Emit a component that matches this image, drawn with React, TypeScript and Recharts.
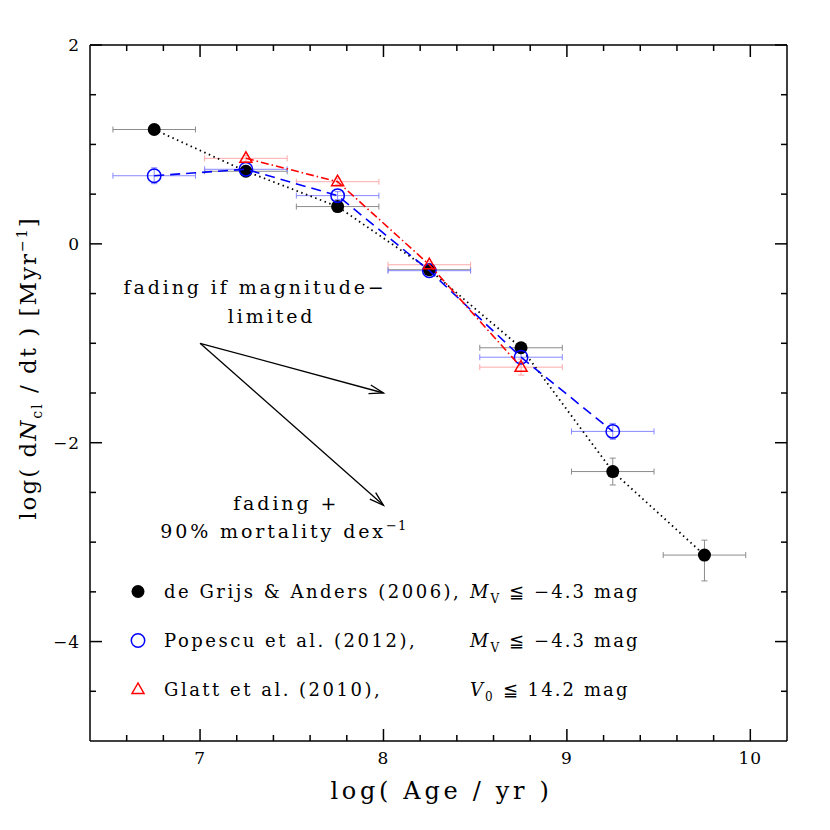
import React from 'react';
import {
  ComposedChart,
  Scatter,
  XAxis,
  YAxis,
  ErrorBar,
  ReferenceLine,
  ReferenceDot,
  Legend,
} from 'recharts';

const FONT = '"DejaVu Serif", "Liberation Serif", serif';

// ---------- data ----------
const ageBins = [6.75, 7.25, 7.75, 8.25, 8.75, 9.25, 9.75];
const grijsLogRate = [1.15, 0.73, 0.375, -0.26, -1.045, -2.29, -3.13];
const grijsErrLow = [0.03, 0.03, 0.03, 0.03, 0.05, 0.135, 0.26];
const grijsErrHigh = [0.03, 0.03, 0.03, 0.03, 0.05, 0.135, 0.15];

const popescuAges = [6.75, 7.25, 7.75, 8.25, 8.75, 9.25];
const popescuLogRate = [0.685, 0.75, 0.485, -0.27, -1.14, -1.886];
const popescuErr = [0.08, 0.04, 0.04, 0.04, 0.05, 0.08];

const glattAges = [7.25, 7.75, 8.25, 8.75];
const glattLogRate = [0.86, 0.625, -0.21, -1.24];
const glattErr = [0.03, 0.03, 0.03, 0.08];

const ageHalfWidth = 0.225;

const xTicks = [6.6, 6.8, 7, 7.2, 7.4, 7.6, 7.8, 8, 8.2, 8.4, 8.6, 8.8, 9, 9.2, 9.4, 9.6, 9.8, 10];
const yTicks = [-4.5, -4, -3.5, -3, -2.5, -2, -1.5, -1, -0.5, 0, 0.5, 1, 1.5, 2];
const xDomain = [6.4, 10.2];
const yDomain = [-5, 2];

const arrowStart = { x: 7.0, y: -1.0 };
const arrowEnds = [
  { x: 8.0, y: -1.5 },
  { x: 8.0, y: -2.63 },
];

const noteX = [7.3, 7.39, 7.47, 7.456];
const noteY = [-0.44, -0.74, -2.62, -2.9];
const noteText = ['fading if magnitude\u2212', 'limited', 'fading +', '90% mortality dex'];
const noteSup = ['', '', '', '\u22121'];

const legendLabels = ['de Grijs & Anders (2006),', 'Popescu et al. (2012),', 'Glatt et al. (2010),'];
const legendSymbol = ['M', 'M', 'V'];
const legendSub = ['V', 'V', '0'];
const legendLimit = ['\u2266 \u22124.3 mag', '\u2266 \u22124.3 mag', '\u2266 14.2 mag'];

const xLabelText = 'log( Age / yr )';

// ---------- built tables ----------
const grijsData = ageBins.map((x, i) => ({
  x,
  y: grijsLogRate[i],
  xe: ageHalfWidth,
  ye: [grijsErrLow[i], grijsErrHigh[i]],
}));
const popescuData = popescuAges.map((x, i) => ({
  x,
  y: popescuLogRate[i],
  xe: ageHalfWidth,
  ye: popescuErr[i],
}));
const glattData = glattAges.map((x, i) => ({
  x,
  y: glattLogRate[i],
  xe: ageHalfWidth,
  ye: glattErr[i],
}));

// ---------- helpers ----------
const fmt = (v: number) => (v < 0 ? '\u2212' + Math.abs(v) : String(v));
const isMajor = (v: number, step: number) => Math.abs(v / step - Math.round(v / step)) < 1e-6;

const MAJOR = 12;
const MINOR = 6;

const BottomTick = (p: any) => {
  const { x, y, payload } = p;
  const v = payload.value;
  const major = isMajor(v, 1);
  return (
    <g>
      <line x1={x} y1={y} x2={x} y2={y - (major ? MAJOR : MINOR)} stroke="#000" strokeWidth={1.5} />
      {major && (
        <text x={x} y={y + 23} textAnchor="middle" fontFamily={FONT} fontSize={17} letterSpacing={1} fill="#000">
          {fmt(v)}
        </text>
      )}
    </g>
  );
};
const TopTick = (p: any) => {
  const { x, y, payload } = p;
  const major = isMajor(payload.value, 1);
  return <line x1={x} y1={y} x2={x} y2={y + (major ? MAJOR : MINOR)} stroke="#000" strokeWidth={1.5} />;
};
const LeftTick = (p: any) => {
  const { x, y, payload } = p;
  const v = payload.value;
  const major = isMajor(v, 2);
  return (
    <g>
      <line x1={x} y1={y} x2={x + (major ? MAJOR : MINOR)} y2={y} stroke="#000" strokeWidth={1.5} />
      {major && (
        <text x={x - 10} y={y + 6} textAnchor="end" fontFamily={FONT} fontSize={17} letterSpacing={1} fill="#000">
          {fmt(v)}
        </text>
      )}
    </g>
  );
};
const RightTick = (p: any) => {
  const { x, y, payload } = p;
  const major = isMajor(payload.value, 2);
  return <line x1={x} y1={y} x2={x - (major ? MAJOR : MINOR)} y2={y} stroke="#000" strokeWidth={1.5} />;
};

const FilledCircle = (p: any) => <circle cx={p.cx} cy={p.cy} r={6.5} fill="#000" />;
const OpenCircle = (p: any) => (
  <circle cx={p.cx} cy={p.cy} r={6.7} fill="none" stroke="#0000ff" strokeWidth={1.5} />
);
const triPoints = (cx: number, cy: number) =>
  `${cx},${cy - 6.5} ${cx - 6},${cy + 4} ${cx + 6},${cy + 4}`;
const OpenTriangle = (p: any) => (
  <polygon points={triPoints(p.cx, p.cy)} fill="none" stroke="#ff0000" strokeWidth={1.5} />
);

const ArrowShape = (p: any) => {
  const { x1, y1, x2, y2 } = p;
  const ang = Math.atan2(y2 - y1, x2 - x1);
  const L = 15;
  const a = 0.3;
  const h1x = x2 - L * Math.cos(ang - a);
  const h1y = y2 - L * Math.sin(ang - a);
  const h2x = x2 - L * Math.cos(ang + a);
  const h2y = y2 - L * Math.sin(ang + a);
  return (
    <g>
      <line x1={x1} y1={y1} x2={x2} y2={y2} stroke="#000" strokeWidth={1.3} />
      <polyline points={`${h1x},${h1y} ${x2},${y2} ${h2x},${h2y}`} fill="none" stroke="#000" strokeWidth={1.3} />
    </g>
  );
};

const makeNote = (i: number) => (p: any) => (
  <text
    x={p.cx}
    y={p.cy + 6}
    textAnchor="middle"
    fontFamily={FONT}
    fontSize={19}
    letterSpacing={2.9}
    fill="#000"
  >
    {noteText[i]}
    {noteSup[i] && (
      <tspan fontSize={13} dy={-8} letterSpacing={1}>
        {noteSup[i]}
      </tspan>
    )}
  </text>
);

const XLabel = (p: any) => {
  const vb = p.viewBox;
  return (
    <text
      x={vb.x + vb.width / 2 + 3}
      y={vb.y + 58}
      textAnchor="middle"
      fontFamily={FONT}
      fontSize={24}
      letterSpacing={3.7}
      fill="#000"
    >
      {xLabelText}
    </text>
  );
};

const YLabel = (p: any) => {
  const vb = p.viewBox;
  const cx = vb.x + 6;
  const cy = vb.y + vb.height / 2 - 25;
  return (
    <text
      x={cx}
      y={cy}
      transform={`rotate(-90, ${cx}, ${cy})`}
      textAnchor="middle"
      fontFamily={FONT}
      fontSize={23}
      letterSpacing={2}
      fill="#000"
    >
      log( d<tspan fontStyle="italic">N</tspan>
      <tspan fontSize={14} dy={6}>cl</tspan>
      <tspan dy={-6}> / dt )  [Myr</tspan>
      <tspan fontSize={14} dy={-9}>{'\u22121'}</tspan>
      <tspan dy={9}>]</tspan>
    </text>
  );
};

const LegendMarker = ({ i, cx, cy }: { i: number; cx: number; cy: number }) => {
  if (i === 0) return <FilledCircle cx={cx} cy={cy} />;
  if (i === 1) return <OpenCircle cx={cx} cy={cy} />;
  return <OpenTriangle cx={cx} cy={cy} />;
};

const LegendContent = () => (
  <svg width={600} height={150} style={{ overflow: 'visible', display: 'block' }}>
    {legendLabels.map((lab, i) => {
      const cy = 26.5 + i * 49;
      return (
        <g key={lab}>
          <LegendMarker i={i} cx={28} cy={cy} />
          <text x={54} y={cy + 6} fontFamily={FONT} fontSize={18} letterSpacing={2.5} fill="#000">
            {lab}
          </text>
          <text x={360} y={cy + 6} fontFamily={FONT} fontSize={18} letterSpacing={2.1} fill="#000">
            <tspan fontStyle="italic">{legendSymbol[i]}</tspan>
            <tspan fontSize={12} dy={5}>{legendSub[i]}</tspan>
            <tspan dy={-5}>{' ' + legendLimit[i]}</tspan>
          </text>
        </g>
      );
    })}
  </svg>
);

export default function App() {
  return (
    <div style={{ position: 'absolute', left: 0, top: 0, width: 830, height: 830, background: '#fff' }}>
      <ComposedChart
        width={830}
        height={830}
        margin={{ top: 44, right: 42, left: 30, bottom: 29 }}
        style={{ background: '#fff' }}
      >
        <XAxis
          xAxisId={0}
          type="number"
          dataKey="x"
          domain={xDomain}
          allowDataOverflow
          ticks={xTicks}
          interval={0}
          tickLine={false}
          tickSize={0}
          tickMargin={0}
          tick={BottomTick}
          axisLine={{ stroke: '#000', strokeWidth: 1.5 }}
          height={60}
          label={{ content: XLabel }}
        />
        <XAxis
          xAxisId="top"
          orientation="top"
          type="number"
          dataKey="x"
          domain={xDomain}
          allowDataOverflow
          ticks={xTicks}
          interval={0}
          tickLine={false}
          tickSize={0}
          tickMargin={0}
          tick={TopTick}
          axisLine={{ stroke: '#000', strokeWidth: 1.5 }}
          height={1}
        />
        <YAxis
          yAxisId={0}
          type="number"
          dataKey="y"
          domain={yDomain}
          allowDataOverflow
          ticks={yTicks}
          interval={0}
          tickLine={false}
          tickSize={0}
          tickMargin={0}
          tick={LeftTick}
          axisLine={{ stroke: '#000', strokeWidth: 1.5 }}
          width={60}
          label={{ content: YLabel }}
        />
        <YAxis
          yAxisId="right"
          orientation="right"
          type="number"
          dataKey="y"
          domain={yDomain}
          allowDataOverflow
          ticks={yTicks}
          interval={0}
          tickLine={false}
          tickSize={0}
          tickMargin={0}
          tick={RightTick}
          axisLine={{ stroke: '#000', strokeWidth: 1.5 }}
          width={1}
        />

        {arrowEnds.map((end, i) => (
          <ReferenceLine key={'arrow' + i} segment={[arrowStart, end]} shape={ArrowShape} ifOverflow="visible" />
        ))}
        {noteText.map((t, i) => (
          <ReferenceDot key={'note' + i} x={noteX[i]} y={noteY[i]} r={0} shape={makeNote(i)} ifOverflow="visible" />
        ))}

        <Scatter
          name="de Grijs & Anders (2006)"
          data={grijsData}
          fill="#000"
          shape={FilledCircle}
          line={{ stroke: '#000', strokeWidth: 1.8, strokeDasharray: '1.5 3.5' }}
          lineJointType="linear"
          isAnimationActive={false}
        >
          <ErrorBar dataKey="xe" direction="x" width={3} stroke="#8c8c8c" strokeWidth={1} />
          <ErrorBar dataKey="ye" direction="y" width={3} stroke="#8c8c8c" strokeWidth={1} />
        </Scatter>
        <Scatter
          name="Popescu et al. (2012)"
          data={popescuData}
          fill="#0000ff"
          shape={OpenCircle}
          line={{ stroke: '#0000ff', strokeWidth: 1.6, strokeDasharray: '10 6' }}
          lineJointType="linear"
          isAnimationActive={false}
        >
          <ErrorBar dataKey="xe" direction="x" width={3} stroke="#8888ff" strokeWidth={1} />
          <ErrorBar dataKey="ye" direction="y" width={3} stroke="#8888ff" strokeWidth={1} />
        </Scatter>
        <Scatter
          name="Glatt et al. (2010)"
          data={glattData}
          fill="#ff0000"
          shape={OpenTriangle}
          line={{ stroke: '#ff0000', strokeWidth: 1.6, strokeDasharray: '8 3 1.5 3' }}
          lineJointType="linear"
          isAnimationActive={false}
        >
          <ErrorBar dataKey="xe" direction="x" width={3} stroke="#ffaaaa" strokeWidth={1} />
          <ErrorBar dataKey="ye" direction="y" width={3} stroke="#ffaaaa" strokeWidth={1} />
        </Scatter>

        <Legend
          layout="vertical"
          align="center"
          verticalAlign="middle"
          content={LegendContent}
          wrapperStyle={{ position: 'absolute', left: 110, top: 565, width: 600, height: 150 }}
        />
      </ComposedChart>
    </div>
  );
}
